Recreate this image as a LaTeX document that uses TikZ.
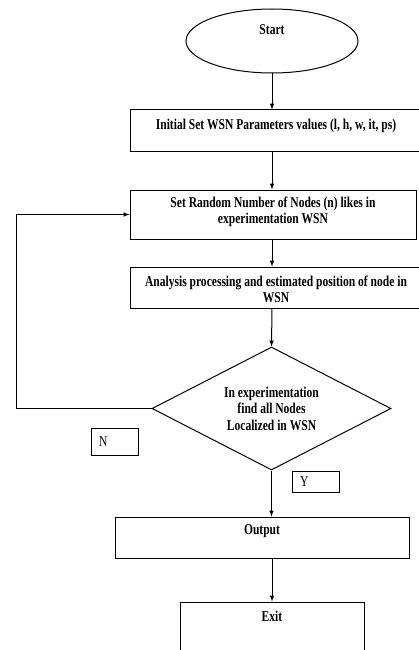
\documentclass[tikz,border=0pt]{standalone}
\usepackage{fontspec}
\setmainfont{Liberation Serif}[FakeStretch=0.77]
\usetikzlibrary{arrows,shapes,positioning}
\tikzset{
  procbox/.style={draw, line width=1pt, rectangle, inner sep=0pt},
  boxtext/.style={anchor=north, align=center, inner sep=0pt, font=\fontsize{15}{16.5}\selectfont\bfseries},
  tagbox/.style={draw, line width=1pt, rectangle, inner xsep=8pt, inner ysep=0pt, text width=31pt, align=left, font=\fontsize{15}{16.5}\selectfont},
  arrow/.style={line width=1pt, ->, >=latex}
}

\begin{document}
\begin{tikzpicture}[x=1pt, y=-1pt]
\useasboundingbox (0,0) rectangle (419,650);

% Start
\node[ellipse, draw, line width=1pt, minimum width=172pt, minimum height=64pt, inner sep=0pt,
  label={[boxtext, yshift=-15.5pt]north:Start}] (start) at (272,41) {};

% Steps
\node[procbox, minimum width=292pt, minimum height=41pt,
  label={[boxtext, yshift=-9pt]north:Initial Set WSN Parameters values (l, h, w, it, ps)}] (init) at (276,130.5) {};
\node[procbox, minimum width=286pt, minimum height=49pt,
  label={[boxtext, yshift=-7pt]north:Set Random Number of Nodes (n) likes in\\experimentation WSN}] (setrand) at (273,214.5) {};
\node[procbox, minimum width=292pt, minimum height=41pt,
  label={[boxtext, yshift=-9pt]north:Analysis processing and estimated position of node in\\WSN}] (analysis) at (276,287.5) {};

% Decision
\node[diamond, draw, line width=1pt, aspect=2, inner sep=0pt, minimum width=239pt, minimum height=123pt,
  align=center, font=\fontsize{15}{16.5}\selectfont\bfseries] (check) at (271.5,408.5)
  {In experimentation\\find all Nodes\\Localized in WSN};

% Yes / No tags
\node[tagbox, minimum height=27pt] (no) at (114.5,441.5) {N};
\node[tagbox, minimum height=21pt] (yes) at (315.5,481.5) {Y};

% End steps
\node[procbox, minimum width=294pt, minimum height=41pt,
  label={[boxtext, yshift=-8pt]north:Output}] (output) at (262,537.5) {};
\node[procbox, minimum width=184pt, minimum height=68pt,
  label={[boxtext, yshift=-9pt]north:Exit}] (exit) at (272,636) {};

% Arrows
\draw[arrow] (start.south) -- (start.south |- init.north);
\draw[arrow] (start.south |- init.south) -- (start.south |- setrand.north);
\draw[arrow] (start.south |- setrand.south) -- (start.south |- analysis.north);
\draw[arrow] (start.south |- analysis.south) -- (check.north);
\draw[arrow] (check.south) -- (check.south |- output.north);
\draw[arrow] (exit.north |- output.south) -- (exit.north);
\draw[arrow] (check.west) -- ++(-135,0) |- (setrand.west);
\end{tikzpicture}
\end{document}
